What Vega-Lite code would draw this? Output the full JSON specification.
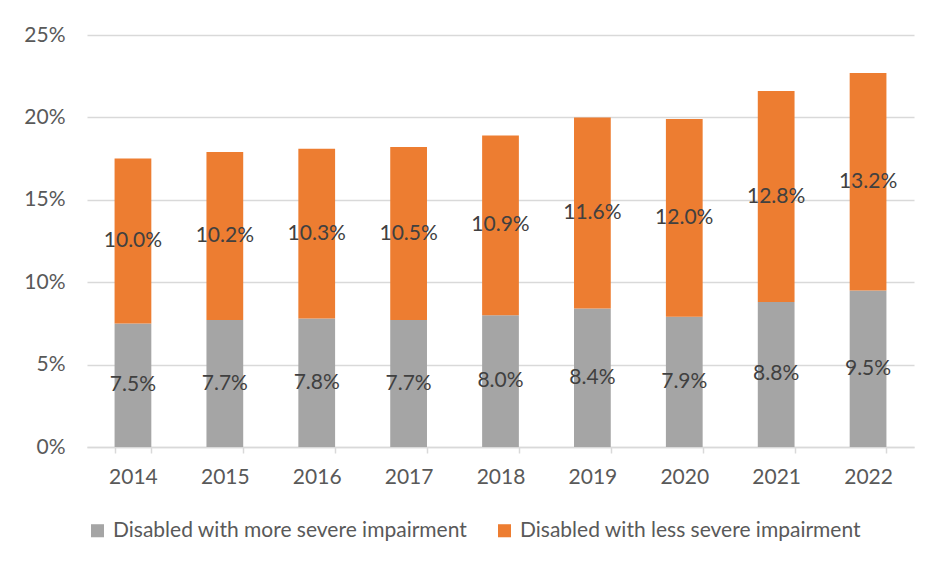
{
  "$schema": "https://vega.github.io/schema/vega-lite/v6.json",
  "width": 827,
  "height": 412,
  "autosize": {"type": "none"},
  "padding": {"left": 87, "top": 35, "right": 18, "bottom": 116},
  "background": "white",
  "config": {
    "font": "Lato",
    "view": {"stroke": null},
    "axis": {"labelFont": "Lato", "labelColor": "#595959", "labelFontSize": 21},
    "legend": {"labelFont": "Lato", "labelColor": "#595959", "labelFontSize": 21}
  },
  "data": {
    "values": [
      {"year": "2014", "group": "Disabled with more severe impairment", "k": 1, "value": 0.075},
      {"year": "2014", "group": "Disabled with less severe impairment", "k": 2, "value": 0.100},
      {"year": "2015", "group": "Disabled with more severe impairment", "k": 1, "value": 0.077},
      {"year": "2015", "group": "Disabled with less severe impairment", "k": 2, "value": 0.102},
      {"year": "2016", "group": "Disabled with more severe impairment", "k": 1, "value": 0.078},
      {"year": "2016", "group": "Disabled with less severe impairment", "k": 2, "value": 0.103},
      {"year": "2017", "group": "Disabled with more severe impairment", "k": 1, "value": 0.077},
      {"year": "2017", "group": "Disabled with less severe impairment", "k": 2, "value": 0.105},
      {"year": "2018", "group": "Disabled with more severe impairment", "k": 1, "value": 0.080},
      {"year": "2018", "group": "Disabled with less severe impairment", "k": 2, "value": 0.109},
      {"year": "2019", "group": "Disabled with more severe impairment", "k": 1, "value": 0.084},
      {"year": "2019", "group": "Disabled with less severe impairment", "k": 2, "value": 0.116},
      {"year": "2020", "group": "Disabled with more severe impairment", "k": 1, "value": 0.079},
      {"year": "2020", "group": "Disabled with less severe impairment", "k": 2, "value": 0.120},
      {"year": "2021", "group": "Disabled with more severe impairment", "k": 1, "value": 0.088},
      {"year": "2021", "group": "Disabled with less severe impairment", "k": 2, "value": 0.128},
      {"year": "2022", "group": "Disabled with more severe impairment", "k": 1, "value": 0.095},
      {"year": "2022", "group": "Disabled with less severe impairment", "k": 2, "value": 0.132}
    ]
  },
  "transform": [
    {"stack": "value", "groupby": ["year"], "sort": [{"field": "k", "order": "ascending"}], "as": ["v0", "v1"]},
    {"calculate": "(datum.v0 + datum.v1) / 2", "as": "mid"}
  ],
  "encoding": {
    "x": {
      "field": "year", "type": "nominal",
      "scale": {"paddingInner": 0.6, "paddingOuter": 0.3},
      "axis": {
        "title": null, "labelAngle": 0, "domainColor": "#d9d9d9", "domainWidth": 1.5,
        "tickColor": "#d9d9d9", "tickWidth": 1.5, "tickSize": 6, "tickBand": "extent",
        "labelPadding": 13
      }
    }
  },
  "layer": [
    {
      "mark": {"type": "bar"},
      "encoding": {
        "y": {
          "field": "v0", "type": "quantitative",
          "scale": {"domain": [0, 0.25], "nice": false, "zero": true},
          "axis": {
            "title": null, "format": ".0%", "values": [0, 0.05, 0.1, 0.15, 0.2, 0.25],
            "domain": false, "ticks": false, "gridColor": "#d9d9d9", "gridWidth": 1.5,
            "labelPadding": 22, "labelOverlap": false
          }
        },
        "y2": {"field": "v1"},
        "color": {
          "field": "group", "type": "nominal",
          "scale": {
            "domain": ["Disabled with more severe impairment", "Disabled with less severe impairment"],
            "range": ["#a5a5a5", "#ed7d31"]
          },
          "legend": {
            "title": null, "orient": "bottom", "direction": "horizontal",
            "symbolType": "square", "symbolSize": 170, "symbolStrokeWidth": 0,
            "columnPadding": 26, "offset": 33, "labelLimit": 0, "labelOffset": 5
          }
        }
      }
    },
    {
      "mark": {"type": "text", "fontSize": 21, "color": "#404040", "font": "Lato"},
      "encoding": {
        "y": {
          "field": "mid", "type": "quantitative",
          "scale": {"domain": [0, 0.25], "nice": false, "zero": true},
          "axis": {
            "title": null, "format": ".0%", "values": [0, 0.05, 0.1, 0.15, 0.2, 0.25],
            "domain": false, "ticks": false, "gridColor": "#d9d9d9", "gridWidth": 1.5,
            "labelPadding": 22, "labelOverlap": false
          }
        },
        "text": {"field": "value", "type": "quantitative", "format": ".1%"}
      }
    }
  ]
}
